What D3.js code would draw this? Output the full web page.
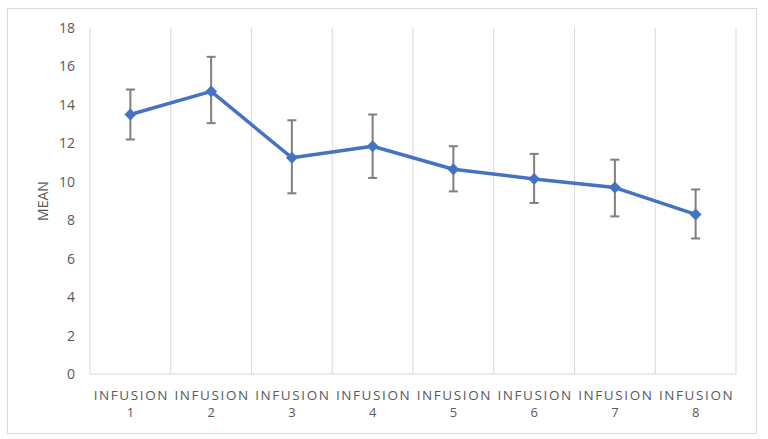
<!DOCTYPE html>
<html>
<head>
<meta charset="utf-8">
<script src="https://cdn.jsdelivr.net/npm/d3@7"></script>
<style>
  body { margin: 0; background: #fff; }
  text { font-family: "Open Sans", "Noto Sans", sans-serif; }
</style>
</head>
<body>
<svg id="graph" width="768" height="439"></svg>
<script>
const categories = ["INFUSION 1", "INFUSION 2", "INFUSION 3", "INFUSION 4",
  "INFUSION 5", "INFUSION 6", "INFUSION 7", "INFUSION 8"];
const means = [13.5, 14.7, 11.25, 11.85, 10.65, 10.15, 9.7, 8.3];
const upper = [14.8, 16.5, 13.2, 13.5, 11.85, 11.45, 11.15, 9.6];
const lower = [12.2, 13.05, 9.4, 10.2, 9.5, 8.9, 8.2, 7.05];
const yTicks = [0, 2, 4, 6, 8, 10, 12, 14, 16, 18];

const data = categories.map((c, i) => ({ cat: c, mean: means[i], hi: upper[i], lo: lower[i] }));

const margin = { top: 28, right: 32, bottom: 65, left: 90 };
const width = 768;
const height = 439;
const svg = d3.select("#graph");

// chart frame
svg.append("rect")
  .attr("x", 7.5).attr("y", 8.5)
  .attr("width", 749).attr("height", 425)
  .attr("fill", "#fff")
  .attr("stroke", "#d9d9d9");

const x = d3.scaleBand()
  .domain(categories)
  .range([margin.left, width - margin.right]);
const y = d3.scaleLinear()
  .domain([0, 18])
  .range([height - margin.bottom, margin.top]);

// vertical gridlines at category boundaries
const bounds = categories.map((c) => x(c)).concat([x.range()[1]]);
svg.append("g")
  .selectAll("line")
  .data(bounds)
  .join("line")
  .attr("x1", (d) => d).attr("x2", (d) => d)
  .attr("y1", y(18)).attr("y2", y(0))
  .attr("stroke", "#d9d9d9")
  .attr("stroke-width", 1);

// baseline
svg.append("line")
  .attr("x1", x.range()[0]).attr("x2", x.range()[1])
  .attr("y1", y(0)).attr("y2", y(0))
  .attr("stroke", "#d9d9d9");

// y tick labels
svg.append("g")
  .attr("transform", `translate(${margin.left},0)`)
  .call(d3.axisLeft(y).tickValues(yTicks).tickSize(0).tickPadding(15))
  .call((g) => g.select(".domain").remove())
  .call((g) => g.selectAll("text")
    .attr("font-size", 14)
    .attr("fill", "#595959")
    .style("font-family", "'Open Sans', sans-serif"));

// y title
svg.append("text")
  .attr("transform", `translate(48,${(y(0) + y(18)) / 2}) rotate(-90)`)
  .attr("text-anchor", "middle")
  .attr("font-size", 14)
  .attr("fill", "#595959")
  .text("MEAN");

// category labels
const lab = svg.append("g")
  .selectAll("text")
  .data(categories)
  .join("text")
  .attr("text-anchor", "middle")
  .attr("fill", "#595959");
lab.append("tspan")
  .attr("x", (d) => x(d) + x.bandwidth() / 2 + 1)
  .attr("y", 400)
  .attr("font-size", 13.5)
  .attr("letter-spacing", 1.6)
  .text((d) => d.split(" ")[0]);
lab.append("tspan")
  .attr("x", (d) => x(d) + x.bandwidth() / 2)
  .attr("y", 417)
  .attr("font-size", 13)
  .text((d) => d.split(" ")[1]);

const cx = (d) => x(d.cat) + x.bandwidth() / 2;

// error bars
const eb = svg.append("g")
  .attr("stroke", "#7f7f7f")
  .attr("stroke-width", 2)
  .selectAll("g")
  .data(data)
  .join("g");
eb.append("line")
  .attr("x1", cx).attr("x2", cx)
  .attr("y1", (d) => y(d.hi)).attr("y2", (d) => y(d.lo));
eb.append("line")
  .attr("x1", (d) => cx(d) - 4.5).attr("x2", (d) => cx(d) + 4.5)
  .attr("y1", (d) => y(d.hi)).attr("y2", (d) => y(d.hi));
eb.append("line")
  .attr("x1", (d) => cx(d) - 4.5).attr("x2", (d) => cx(d) + 4.5)
  .attr("y1", (d) => y(d.lo)).attr("y2", (d) => y(d.lo));

// line
svg.append("path")
  .datum(data)
  .attr("fill", "none")
  .attr("stroke", "#4472C4")
  .attr("stroke-width", 3.5)
  .attr("stroke-linejoin", "round")
  .attr("d", d3.line().x(cx).y((d) => y(d.mean)));

// diamond markers
svg.append("g")
  .selectAll("path")
  .data(data)
  .join("path")
  .attr("transform", (d) => `translate(${cx(d)},${y(d.mean)})`)
  .attr("d", d3.symbol(d3.symbolDiamond2, 90))
  .attr("fill", "#4472C4");
</script>
</body>
</html>
